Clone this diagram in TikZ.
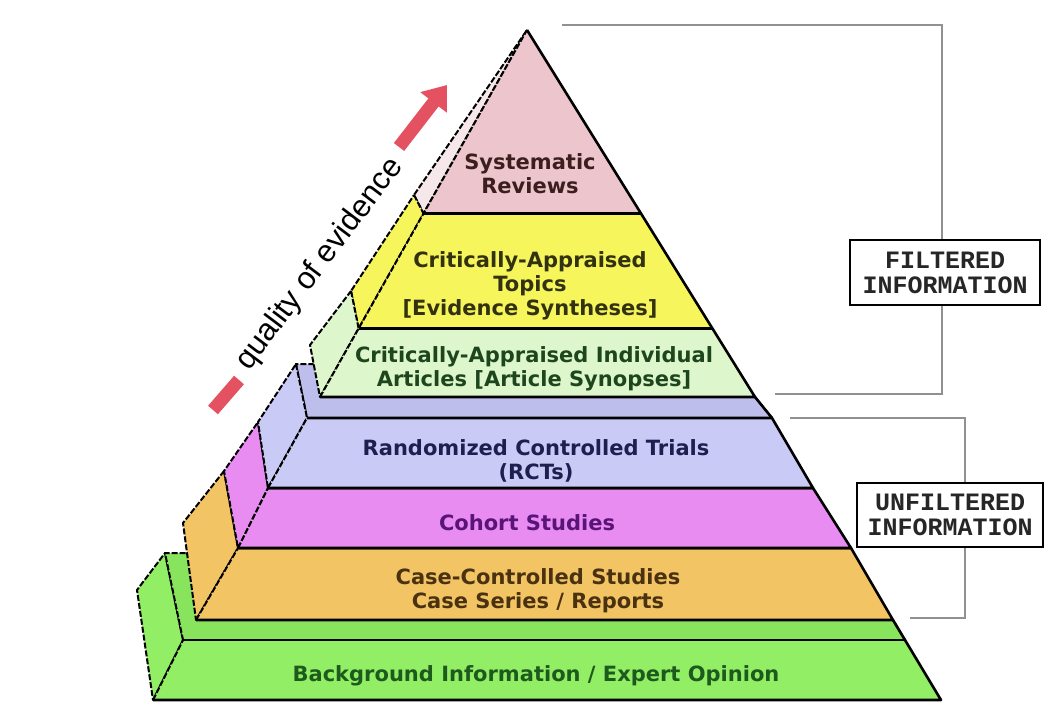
\documentclass[tikz,border=0pt]{standalone}
\usepackage{fontspec}
\usetikzlibrary{arrows.meta}
\newfontfamily\dvs{DejaVu Sans}
\newfontfamily\lsans{Liberation Sans}
\newfontfamily\lmono{Liberation Mono}
\definecolor{pinkC}{RGB}{236,198,204}
\definecolor{pinkSide}{RGB}{246,232,234}
\definecolor{yellowC}{RGB}{247,245,92}
\definecolor{lgreenC}{RGB}{222,246,204}
\definecolor{lavC}{RGB}{202,202,246}
\definecolor{lavTop}{RGB}{190,190,236}
\definecolor{magC}{RGB}{232,140,242}
\definecolor{orC}{RGB}{242,196,100}
\definecolor{grC}{RGB}{146,238,100}
\definecolor{grTop}{RGB}{136,228,92}
\definecolor{redC}{RGB}{228,82,98}
\definecolor{brkC}{RGB}{145,145,145}
\definecolor{tPink}{RGB}{60,30,30}
\definecolor{tYel}{RGB}{50,50,16}
\definecolor{tLgr}{RGB}{30,70,30}
\definecolor{tLav}{RGB}{30,30,80}
\definecolor{tMag}{RGB}{90,20,120}
\definecolor{tOr}{RGB}{74,50,16}
\definecolor{tGr}{RGB}{30,90,30}
\begin{document}
\begin{tikzpicture}[x=1pt,y=-1pt,
  frontedge/.style={draw=black,line width=2.6pt,line join=round},
  sideedge/.style={draw=black,line width=2pt,dash pattern=on 6pt off 2pt,line join=round},
  lbl/.style={font=\dvs\bfseries\fontsize{21}{24}\selectfont,align=center,inner sep=0pt},
  brk/.style={draw=brkC,line width=2.5pt},
  infobox/.style={draw=black,line width=1.8pt,fill=white,align=center,inner sep=0pt,
    font=\lmono\bfseries\fontsize{25}{25}\selectfont,text=black!85}]
\useasboundingbox (0,0) rectangle (1059,720);
\fill[white] (0,0) rectangle (1059,720);

% brackets (behind boxes)
\coordinate (f1) at (562,25);
\coordinate (f2) at (942,25);
\coordinate (f3) at (942,394);
\coordinate (f4) at (775,394);
\coordinate (u1) at (790,418);
\coordinate (u2) at (965,418);
\coordinate (u3) at (965,618);
\coordinate (u4) at (910,618);
\draw[brk] (f1) -- (f2) -- (f3) -- (f4);
\draw[brk] (u1) -- (u2) -- (u3) -- (u4);
\node[infobox,minimum width=190pt,minimum height=65pt] (fbox) at (945,272.5) {FILTERED\\INFORMATION};
\node[infobox,minimum width=186pt,minimum height=64pt] (ubox) at (950,515) {UNFILTERED\\INFORMATION};

% ---- Background block
\draw[sideedge,fill=grC] (165,553) -- (183,640) -- (153,700) -- (137,590) -- cycle;
\draw[sideedge,fill=grTop] (183,640) -- (905,640) -- (893,620) -- (700,553) -- (165,553) -- cycle;
\fill[grC] (183,640) -- (905,640) -- (941,700) -- (153,700) -- cycle;
\draw[frontedge] (893,620) -- (905,640) -- (941,700) -- (153,700);
\draw[frontedge] (183,640) -- (905,640);
\draw[sideedge] (153,700) -- (183,640);

% ---- Case-controlled block
\draw[sideedge,fill=orC] (224,471) -- (238,548) -- (196,620) -- (183,523) -- cycle;
\fill[orC] (238,548) -- (851,548) -- (893,620) -- (196,620) -- cycle;
\draw[frontedge] (238,548) -- (851,548) -- (893,620) -- (196,620);
\draw[sideedge] (196,620) -- (238,548);

% ---- Cohort block
\draw[sideedge,fill=magC] (258,422) -- (268,488) -- (238,548) -- (224,471) -- cycle;
\fill[magC] (268,488) -- (813,488) -- (851,548) -- (238,548) -- cycle;
\draw[frontedge] (268,488) -- (813,488) -- (851,548) -- (238,548);
\draw[sideedge] (238,548) -- (268,488);

% ---- RCT block
\draw[sideedge,fill=lavTop] (307,418) -- (772,418) -- (755,397) -- (600,364) -- (296,364) -- cycle;
\draw[frontedge] (755,397) -- (772,418);
\draw[sideedge,fill=lavC] (296,364) -- (307,418) -- (268,488) -- (258,422) -- cycle;
\fill[lavC] (307,418) -- (772,418) -- (813,488) -- (268,488) -- cycle;
\draw[frontedge] (307,418) -- (772,418) -- (813,488) -- (268,488);
\draw[sideedge] (268,488) -- (307,418);

% ---- Filtered block
\draw[sideedge,fill=pinkSide] (527,30) -- (423.5,213.5) -- (414,195) -- cycle;
\draw[sideedge,fill=yellowC] (414,195) -- (423.5,213.5) -- (358.6,328.5) -- (351,291) -- cycle;
\draw[sideedge,fill=lgreenC] (351,291) -- (358.6,328.5) -- (320,397) -- (310,345) -- cycle;
\fill[pinkC] (527,30) -- (641,213.5) -- (423.5,213.5) -- cycle;
\fill[yellowC] (423.5,213.5) -- (641,213.5) -- (712.4,328.5) -- (358.6,328.5) -- cycle;
\fill[lgreenC] (358.6,328.5) -- (712.4,328.5) -- (755,397) -- (320,397) -- cycle;
\draw[frontedge] (527,30) -- (755,397) -- (320,397);
\draw[frontedge] (423.5,213.5) -- (641,213.5);
\draw[frontedge] (358.6,328.5) -- (712.4,328.5);
\draw[sideedge] (320,397) -- (527,30);

% ---- labels
\node[lbl,text=tPink] (sr) at (530,174) {Systematic\\Reviews};
\node[lbl,text=tYel] (cat) at (530,286) {Critically-Appraised\\Topics\\{[}Evidence Syntheses{]}};
\node[lbl,text=tLgr] (cai) at (534,369) {Critically-Appraised Individual\\Articles {[}Article Synopses{]}};
\node[lbl,text=tLav] (rct) at (536,461) {Randomized Controlled Trials\\(RCTs)};
\node[lbl,text=tMag] (coh) at (527,523) {Cohort Studies};
\node[lbl,text=tOr] (ccs) at (538,591) {Case-Controlled Studies\\Case Series / Reports};
\node[lbl,text=tGr] (bg) at (536,676) {Background Information / Expert Opinion};

% ---- quality of evidence
\coordinate (d1) at (213,410);
\coordinate (d2) at (239,380);
\coordinate (a1) at (399,147);
\coordinate (a2) at (447,85);
\draw[redC,line width=13pt] (d1) -- (d2);
\draw[redC,line width=13pt,-{Triangle[length=22pt,width=32pt]}] (a1) -- (a2);
\node[rotate=53,font=\lsans\fontsize{31}{31}\selectfont,inner sep=0pt] (qoe) at (320,264) {quality of evidence};
\end{tikzpicture}
\end{document}
